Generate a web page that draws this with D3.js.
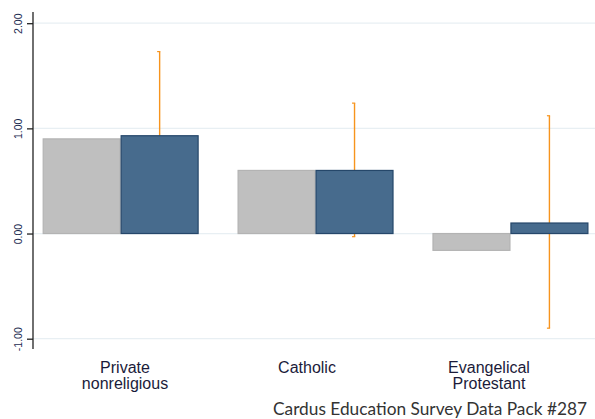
<!DOCTYPE html>
<html>
<head>
<meta charset="utf-8">
<script src="https://cdn.jsdelivr.net/npm/d3@7"></script>
<style>
  html, body { margin: 0; padding: 0; background: #fff; }
  svg { display: block; }
</style>
</head>
<body>
<svg id="chart" width="595" height="419"></svg>
<script>
// ---- data ----
const categories = [["Private", "nonreligious"], ["Catholic"], ["Evangelical", "Protestant"]];
const categoryKeys = ["Private nonreligious", "Catholic", "Evangelical Protestant"];
const seriesNames = ["Unadjusted", "Adjusted"];
const unadjustedValues = [0.90, 0.60, -0.16];
const adjustedValues = [0.93, 0.60, 0.10];
const ciLow = [0.12, -0.03, -0.90];
const ciHigh = [1.73, 1.24, 1.12];
const tickValues = [-1, 0, 1, 2];
const tickLabels = ["-1.00", "0.00", "1.00", "2.00"];
const footer = "Cardus Education Survey Data Pack #287";

// ---- drawing ----
const svg = d3.select("#chart");
const W = 595, H = 419;
const axisX = 33;

const y = d3.scaleLinear().domain([-1, 2]).range([338.7, 23.2]);
const x = d3.scaleBand().domain(categoryKeys).range([42.7, 588.4]).paddingInner(0.2).paddingOuter(0);
const xs = d3.scaleBand().domain(seriesNames).range([0, x.bandwidth()]).padding(0);
// label positions (labels in the source are on their own, slightly narrower spacing)
const xl = d3.scalePoint().domain(categoryKeys).range([125, 489]);

// gridlines
svg.append("g").selectAll("line").data(tickValues).join("line")
  .attr("x1", axisX).attr("x2", W)
  .attr("y1", d => y(d)).attr("y2", d => y(d))
  .attr("stroke", "#e8eff3").attr("stroke-width", 1.2);

const rows = categoryKeys.map((k, i) => ({
  key: k, vals: [unadjustedValues[i], adjustedValues[i]], lo: ciLow[i], hi: ciHigh[i]
}));

// error bars (drawn under bars)
const eb = svg.append("g");
rows.forEach(r => {
  const cx = x(r.key) + xs("Adjusted") + xs.bandwidth() / 2;
  eb.append("line").attr("x1", cx).attr("x2", cx)
    .attr("y1", y(r.hi)).attr("y2", y(r.lo))
    .attr("stroke", "#f7941d").attr("stroke-width", 1.4);
  [r.hi, r.lo].forEach(v => {
    eb.append("line").attr("x1", cx - 2.5).attr("x2", cx + 0.7)
      .attr("y1", y(v)).attr("y2", y(v))
      .attr("stroke", "#f7941d").attr("stroke-width", 1.2);
  });
});

// bars
const fills = ["#bfbfbf", "#476b8d"];
const strokes = ["#b3b3b3", "#25476a"];
const g = svg.append("g");
rows.forEach(r => {
  r.vals.forEach((v, j) => {
    const s = seriesNames[j];
    g.append("rect")
      .attr("x", x(r.key) + xs(s) + 0.5)
      .attr("width", xs.bandwidth() - 1)
      .attr("y", Math.min(y(v), y(0)))
      .attr("height", Math.abs(y(v) - y(0)))
      .attr("fill", fills[j]).attr("stroke", strokes[j]).attr("stroke-width", 1.2);
  });
});

// y axis
const ax = svg.append("g").attr("transform", `translate(${axisX},0)`)
  .call(d3.axisLeft(y).tickValues(tickValues).tickSize(6).tickFormat((d, i) => tickLabels[i]));
ax.select(".domain").remove();
ax.append("line").attr("x1", 0).attr("x2", 0).attr("y1", 12).attr("y2", 349)
  .attr("stroke", "#222").attr("stroke-width", 1.3);
ax.selectAll(".tick line").attr("stroke", "#222").attr("stroke-width", 1.3);
ax.selectAll(".tick text")
  .attr("x", null).attr("dy", null)
  .attr("transform", "translate(-15,0) rotate(-90)")
  .attr("text-anchor", "middle")
  .attr("dy", "0.35em")
  .attr("fill", "#1a2a50")
  .style("font-family", "'Liberation Sans', Arial, sans-serif")
  .style("font-size", "10.5px");

// category labels
const cl = svg.append("g");
categories.forEach((lines, i) => {
  const cx = xl(categoryKeys[i]);
  const t = cl.append("text").attr("x", cx).attr("y", 373.3)
    .attr("text-anchor", "middle")
    .attr("fill", "#1b1b3a")
    .style("font-family", "'Liberation Sans', Arial, sans-serif")
    .style("font-size", "16px");
  lines.forEach((ln, k) => {
    t.append("tspan").attr("x", cx).attr("dy", k === 0 ? 0 : 15.8).text(ln);
  });
});

// footer
svg.append("text").attr("x", 273).attr("y", 415)
  .attr("text-anchor", "start")
  .attr("fill", "#333")
  .style("font-family", "Lato, 'Open Sans', sans-serif")
  .style("font-size", "16.5px")
  .attr("textLength", 314)
  .attr("lengthAdjust", "spacingAndGlyphs")
  .text(footer);
</script>
</body>
</html>
